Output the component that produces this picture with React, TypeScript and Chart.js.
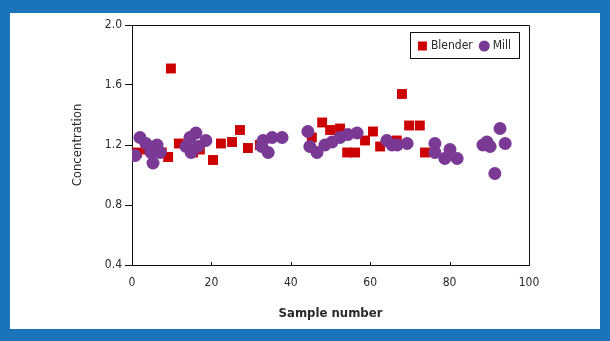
import React, { useEffect, useRef } from "react";
import { Chart, registerables } from "chart.js";

Chart.register(...registerables);

const blenderX = [1.3, 3.8, 5.3, 7.5, 9.1, 9.8, 11.8, 15.4, 17.1, 20.4, 22.4, 25.2, 27.2, 29.2, 32.2, 45.3, 47.9, 49.9, 52.4, 54.2, 56.2, 58.7, 60.7, 62.5, 66.7, 68.0, 69.8, 72.5, 73.8];
const blenderY = [1.15, 1.17, 1.19, 1.15, 1.12, 1.71, 1.21, 1.15, 1.17, 1.10, 1.21, 1.22, 1.30, 1.18, 1.20, 1.25, 1.35, 1.30, 1.31, 1.15, 1.15, 1.23, 1.29, 1.19, 1.23, 1.54, 1.33, 1.33, 1.15];

const millX = [0.8, 2.0, 3.5, 4.8, 5.3, 6.3, 7.1, 13.6, 14.6, 14.9, 16.1, 16.6, 18.6, 32.7, 33.0, 34.3, 35.3, 37.8, 44.3, 44.8, 46.6, 48.6, 50.4, 52.4, 54.4, 56.7, 64.2, 65.5, 66.8, 69.3, 76.3, 76.3, 78.8, 80.1, 81.9, 88.4, 89.4, 90.2, 91.4, 92.7, 94.0];
const millY = [1.13, 1.25, 1.21, 1.15, 1.08, 1.2, 1.15, 1.19, 1.25, 1.15, 1.28, 1.19, 1.23, 1.19, 1.23, 1.15, 1.25, 1.25, 1.29, 1.19, 1.15, 1.2, 1.22, 1.25, 1.27, 1.28, 1.23, 1.2, 1.2, 1.21, 1.21, 1.15, 1.11, 1.17, 1.11, 1.2, 1.22, 1.19, 1.01, 1.31, 1.21];

const xTicks = [0, 20, 40, 60, 80, 100];
const yTicks = [0.4, 0.8, 1.2, 1.6, 2.0];

const seriesNames = ["Blender", "Mill"];
const RED = "#cc0000";
const PURPLE = "#7b3996";
const FONT = "'Liberation Sans Narrow', 'Arial Narrow', 'DejaVu Sans Condensed', sans-serif";
const TEXT = "#2a2a2a";

const framePlugin = {
  id: "frameAndLegend",
  afterDraw(chart: any) {
    const { ctx, chartArea } = chart;
    const { left, top, right, bottom } = chartArea;
    ctx.save();
    ctx.strokeStyle = "#111";
    ctx.lineWidth = 1;
    ctx.beginPath();
    ctx.moveTo(left, top + 0.5);
    ctx.lineTo(right + 0.5, top + 0.5);
    ctx.lineTo(right + 0.5, bottom);
    const xs = chart.scales.x;
    xTicks.forEach((v) => {
      const px = Math.round(xs.getPixelForValue(v)) + 0.5;
      ctx.moveTo(px, bottom);
      ctx.lineTo(px, bottom - 3);
    });
    ctx.stroke();

    // legend
    const bx = right - 119;
    const by = top + 7;
    const bw = 109;
    const bh = 26;
    ctx.strokeStyle = "#111";
    ctx.strokeRect(bx + 0.5, by + 0.5, bw, bh);
    const cy = by + bh / 2 + 1;
    ctx.font = `12px ${FONT}`;
    const w1 = ctx.measureText(seriesNames[0]).width;
    const w2 = ctx.measureText(seriesNames[1]).width;
    const content = 9 + 4 + w1 + 6 + 11 + 3 + w2;
    let x = bx + Math.max(4, (bw - content) / 2);
    ctx.fillStyle = RED;
    ctx.fillRect(x, cy - 4.5, 9, 9);
    x += 13;
    ctx.fillStyle = TEXT;
    ctx.textBaseline = "middle";
    ctx.textAlign = "left";
    ctx.fillText(seriesNames[0], x, cy);
    x += w1 + 6;
    ctx.fillStyle = PURPLE;
    ctx.beginPath();
    ctx.arc(x + 5.5, cy, 5.5, 0, Math.PI * 2);
    ctx.fill();
    x += 14;
    ctx.fillStyle = TEXT;
    ctx.fillText(seriesNames[1], x, cy);
    ctx.restore();
  },
};

export default function App() {
  const ref = useRef<HTMLCanvasElement | null>(null);

  useEffect(() => {
    if (!ref.current) return;
    const chart = new Chart(ref.current, {
      type: "scatter",
      data: {
        datasets: [
          {
            label: seriesNames[0],
            data: blenderX.map((x, i) => ({ x, y: blenderY[i] })),
            pointStyle: "rect",
            pointRadius: 7,
            pointHoverRadius: 7,
            backgroundColor: RED,
            borderColor: RED,
            borderWidth: 0,
            order: 1,
          },
          {
            label: seriesNames[1],
            data: millX.map((x, i) => ({ x, y: millY[i] })),
            pointStyle: "circle",
            pointRadius: 6.5,
            pointHoverRadius: 6.5,
            backgroundColor: PURPLE,
            borderColor: PURPLE,
            borderWidth: 0,
            order: 0,
          },
        ],
      },
      options: {
        animation: false,
        responsive: true,
        maintainAspectRatio: false,
        layout: { padding: { left: 0, top: 25, right: 81, bottom: 0 } },
        plugins: { legend: { display: false }, tooltip: { enabled: false } },
        scales: {
          x: {
            type: "linear",
            min: 0,
            max: 100,
            afterBuildTicks: (s: any) => {
              s.ticks = xTicks.map((v) => ({ value: v }));
            },
            afterFit: (s: any) => {
              s.height = 76;
              s.paddingLeft = 0;
              s.paddingRight = 0;
            },
            grid: { display: false },
            border: { display: true, color: "#111", width: 1 },
            ticks: {
              color: TEXT,
              font: { family: FONT, size: 12 },
              padding: 3,
              maxRotation: 0,
              callback: (v: any) => String(v),
            },
            title: {
              display: true,
              text: "Sample number",
              color: TEXT,
              font: { family: FONT, size: 13, weight: "bold" },
              padding: { top: 0, bottom: 20 },
            },
          },
          y: {
            type: "linear",
            min: 0.4,
            max: 2.0,
            afterBuildTicks: (s: any) => {
              s.ticks = yTicks.map((v) => ({ value: v }));
            },
            afterFit: (s: any) => {
              s.width = 132;
              s.paddingTop = 0;
              s.paddingBottom = 0;
            },
            grid: {
              display: true,
              drawOnChartArea: false,
              drawTicks: true,
              tickLength: 7,
              color: "#111",
            },
            border: { display: true, color: "#111", width: 1 },
            ticks: {
              color: TEXT,
              font: { family: FONT, size: 12 },
              padding: 3,
              callback: (v: any) => Number(v).toFixed(1),
            },
            title: {
              display: true,
              text: "Concentration",
              color: TEXT,
              font: { family: FONT, size: 13 },
              padding: { top: 70, bottom: 0 },
            },
          },
        },
      },
      plugins: [framePlugin],
    });
    return () => chart.destroy();
  }, []);

  return (
    <div style={{ position: "fixed", left: 0, top: 0, width: 610, height: 341, background: "#1b73ba" }}>
      <div style={{ position: "absolute", left: 10, top: 13, width: 590, height: 316, background: "#ffffff" }} />
      <div style={{ position: "absolute", left: 0, top: 0, width: 610, height: 341 }}>
        <canvas ref={ref} />
      </div>
    </div>
  );
}
